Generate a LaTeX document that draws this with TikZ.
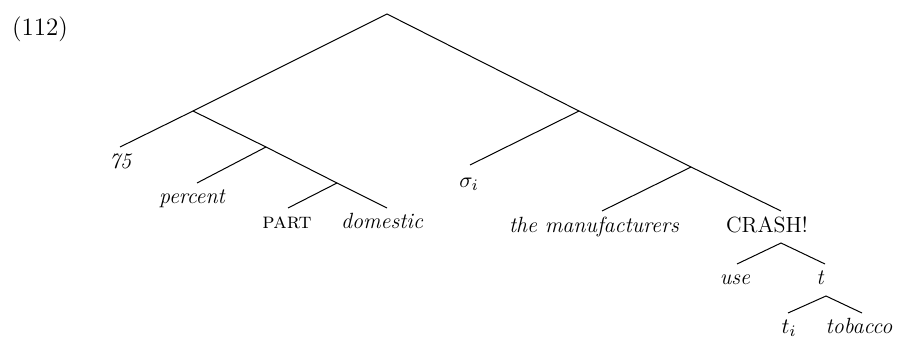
\documentclass[tikz,border=0pt]{standalone}
\begin{document}
\begin{tikzpicture}[x=0.5pt,y=-0.5pt,
  edge/.style={line width=0.5pt},
  lab/.style={anchor=base,inner sep=0pt,font=\fontsize{11}{13}\selectfont}]
\useasboundingbox (0,0) rectangle (897,338);
% junctions
\coordinate (R) at (387,14);
\coordinate (A) at (193,111);
\coordinate (B) at (579,111);
\coordinate (C) at (266,147);
\coordinate (D) at (337,183);
\coordinate (E) at (691,167);
\coordinate (F) at (781,243);
\coordinate (H) at (826,296);
% leaf ends
\coordinate (e75) at (120,147);
\coordinate (eperc) at (197,183);
\coordinate (epart) at (288,208);
\coordinate (edom) at (387,208);
\coordinate (esig) at (470,165);
\coordinate (eman) at (602,211);
\coordinate (ecr) at (781,211);
\coordinate (euse) at (737,264);
\coordinate (et) at (825,264);
\coordinate (eti) at (788,313);
\coordinate (etob) at (862,313);
% labels
\node[lab,font=\fontsize{12.5}{15}\selectfont] (ex) at (40,35) {(112)};
\node[lab] (l75) at (120,168) {\itshape 75};
\node[lab] (lperc) at (192,203) {\itshape percent};
\node[lab] (lpart) at (287,228) {\textsc{part}};
\node[lab] (ldom) at (382,228) {\itshape domestic};
\node[lab] (lsig) at (469,187) {$\sigma_i$};
\node[lab] (lman) at (594,232) {\itshape the manufacturers};
\node[lab] (lcr) at (767,232) {CRASH!};
\node[lab] (luse) at (735,284) {\itshape use};
\node[lab] (lt) at (820,284) {\itshape t};
\node[lab] (lti) at (789,333) {$t_i$};
\node[lab] (ltob) at (859,333) {\itshape tobacco};
% edges
\draw[edge] (A) -- (R) -- (B);
\draw[edge] (e75) -- (A) -- (C);
\draw[edge] (eperc) -- (C) -- (D);
\draw[edge] (epart) -- (D) -- (edom);
\draw[edge] (esig) -- (B) -- (E);
\draw[edge] (eman) -- (E) -- (ecr);
\draw[edge] (euse) -- (F) -- (et);
\draw[edge] (eti) -- (H) -- (etob);
\end{tikzpicture}
\end{document}
